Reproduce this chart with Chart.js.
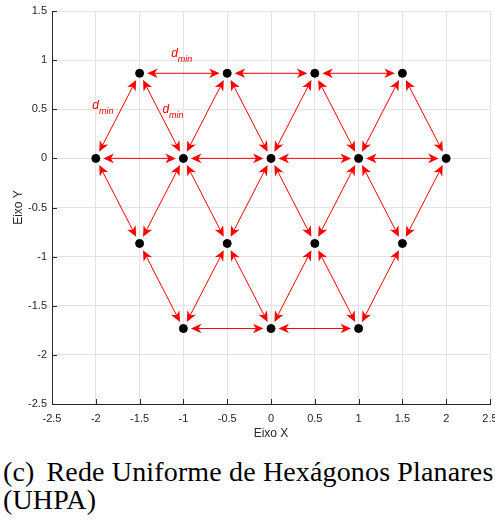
<!DOCTYPE html>
<html>
<head>
<meta charset="utf-8">
<script src="https://cdn.jsdelivr.net/npm/chart.js@4.4.0/dist/chart.umd.min.js"></script>
<style>
  html, body { margin: 0; padding: 0; background: #fff; }
  #wrap { position: relative; width: 495px; height: 520px; overflow: hidden; }
  #plot { position: absolute; left: 0; top: 0; }
  .caption {
    position: absolute; left: 3px; white-space: nowrap;
    font-family: "Liberation Serif", serif; font-size: 28px; color: #000;
    letter-spacing: 0.15px;
  }
  .caption .num { margin-right: 12px; }
</style>
</head>
<body>
<div id="wrap">
  <canvas id="plot" width="495" height="445"></canvas>
  <div class="caption" style="top: 456px;"><span class="num">(c)</span>Rede Uniforme de Hexágonos Planares</div>
  <div class="caption" style="top: 484px;">(UHPA)</div>
</div>
<script>
// node positions of the hexagonal lattice
const nodeX = [-1.5, -0.5, 0.5, 1.5, -2, -1, 0, 1, 2, -1.5, -0.5, 0.5, 1.5, -1, 0, 1];
const nodeY = [0.866, 0.866, 0.866, 0.866, 0, 0, 0, 0, 0,
               -0.866, -0.866, -0.866, -0.866, -1.732, -1.732, -1.732];

// neighbour links (indices into nodeX / nodeY), drawn as double arrows
const links = [
  [0, 1], [1, 2], [2, 3],
  [0, 4], [0, 5], [1, 5], [1, 6], [2, 6], [2, 7], [3, 7], [3, 8],
  [4, 5], [5, 6], [6, 7], [7, 8],
  [4, 9], [5, 9], [5, 10], [6, 10], [6, 11], [7, 11], [7, 12], [8, 12],
  [9, 13], [10, 13], [10, 14], [11, 14], [11, 15], [12, 15],
  [13, 14], [14, 15]
];

// d_min annotations
const labelX = [-1.14, -2.04, -1.24];
const labelY = [1.03, 0.50, 0.46];

const xTicks = [-2.5, -2, -1.5, -1, -0.5, 0, 0.5, 1, 1.5, 2, 2.5];
const yTicks = [-2.5, -2, -1.5, -1, -0.5, 0, 0.5, 1, 1.5];

const axisColor = '#262626';
const gridColor = '#e3e3e3';
const tickFont = { family: 'Liberation Sans, Arial, sans-serif', size: 11 };

function drawHead(ctx, tx, ty, ux, uy) {
  // concave arrow head pointing along (ux, uy), tip at (tx, ty)
  const len = 10.5, half = 4.8, back = 3;
  const px = -uy, py = ux;
  ctx.beginPath();
  ctx.moveTo(tx, ty);
  ctx.lineTo(tx - ux * len + px * half, ty - uy * len + py * half);
  ctx.lineTo(tx - ux * (len - back), ty - uy * (len - back));
  ctx.lineTo(tx - ux * len - px * half, ty - uy * len - py * half);
  ctx.closePath();
  ctx.fill();
}

const arrowPlugin = {
  id: 'arrows',
  beforeDatasetsDraw(chart) {
    const { ctx, scales: { x, y } } = chart;
    const gap = 7.5;
    ctx.save();
    ctx.strokeStyle = '#ff0000';
    ctx.fillStyle = '#ff0000';
    ctx.lineWidth = 1;
    links.forEach(([a, b]) => {
      const x1 = x.getPixelForValue(nodeX[a]), y1 = y.getPixelForValue(nodeY[a]);
      const x2 = x.getPixelForValue(nodeX[b]), y2 = y.getPixelForValue(nodeY[b]);
      const d = Math.hypot(x2 - x1, y2 - y1);
      const ux = (x2 - x1) / d, uy = (y2 - y1) / d;
      const sx = x1 + ux * gap, sy = y1 + uy * gap;
      const ex = x2 - ux * gap, ey = y2 - uy * gap;
      ctx.beginPath();
      ctx.moveTo(sx + ux * 6, sy + uy * 6);
      ctx.lineTo(ex - ux * 6, ey - uy * 6);
      ctx.stroke();
      drawHead(ctx, ex, ey, ux, uy);
      drawHead(ctx, sx, sy, -ux, -uy);
    });
    // d_min labels
    ctx.fillStyle = '#ff0000';
    ctx.textBaseline = 'alphabetic';
    ctx.textAlign = 'left';
    labelX.forEach((lx, i) => {
      const px = x.getPixelForValue(lx), py = y.getPixelForValue(labelY[i]);
      ctx.font = 'italic 12px "Liberation Sans", Arial, sans-serif';
      ctx.fillText('d', px, py);
      const w = ctx.measureText('d').width;
      ctx.font = 'italic 9px "Liberation Sans", Arial, sans-serif';
      ctx.fillText('min', px + w, py + 5);
    });
    ctx.restore();
  },
  afterDraw(chart) {
    // inward tick marks on the left and bottom axes
    const { ctx, chartArea: { left, bottom }, scales: { x, y } } = chart;
    ctx.save();
    ctx.strokeStyle = axisColor;
    ctx.lineWidth = 1;
    ctx.beginPath();
    xTicks.forEach(v => {
      const px = Math.round(x.getPixelForValue(v)) + 0.5;
      ctx.moveTo(px, bottom);
      ctx.lineTo(px, bottom - 5);
    });
    yTicks.forEach(v => {
      const py = Math.round(y.getPixelForValue(v)) + 0.5;
      ctx.moveTo(left, py);
      ctx.lineTo(left + 5, py);
    });
    ctx.stroke();
    ctx.restore();
  }
};

new Chart(document.getElementById('plot'), {
  type: 'scatter',
  data: {
    datasets: [{
      data: nodeX.map((v, i) => ({ x: v, y: nodeY[i] })),
      backgroundColor: '#000',
      borderColor: '#000',
      borderWidth: 1,
      pointRadius: 4,
      pointHoverRadius: 4
    }]
  },
  options: {
    responsive: false,
    animation: false,
    events: [],
    layout: { padding: { top: 11, right: 5, left: 0, bottom: 0 } },
    plugins: { legend: { display: false }, tooltip: { enabled: false } },
    scales: {
      x: {
        type: 'linear', min: -2.5, max: 2.5,
        afterBuildTicks: s => { s.ticks = xTicks.map(v => ({ value: v })); },
        afterFit: s => { s.height = 41; s.paddingLeft = 0; s.paddingRight = 0; },
        grid: { color: gridColor, drawTicks: false },
        border: { color: axisColor, width: 1 },
        ticks: { font: tickFont, color: axisColor, padding: 8, maxRotation: 0, autoSkip: false,
                 callback: v => String(v) },
        title: { display: true, text: 'Eixo X', color: axisColor,
                 font: { family: 'Liberation Sans, Arial, sans-serif', size: 12 },
                 padding: { top: 0, bottom: 4 } }
      },
      y: {
        type: 'linear', min: -2.5, max: 1.5,
        afterBuildTicks: s => { s.ticks = yTicks.map(v => ({ value: v })); },
        afterFit: s => { s.width = 52; s.paddingTop = 0; s.paddingBottom = 0; },
        grid: { color: gridColor, drawTicks: false },
        border: { color: axisColor, width: 1 },
        ticks: { font: tickFont, color: axisColor, padding: 5, autoSkip: false,
                 callback: v => String(v) },
        title: { display: true, text: 'Eixo Y', color: axisColor,
                 font: { family: 'Liberation Sans, Arial, sans-serif', size: 12 },
                 padding: { top: 11, bottom: 0 } }
      }
    }
  },
  plugins: [arrowPlugin]
});
</script>
</body>
</html>
